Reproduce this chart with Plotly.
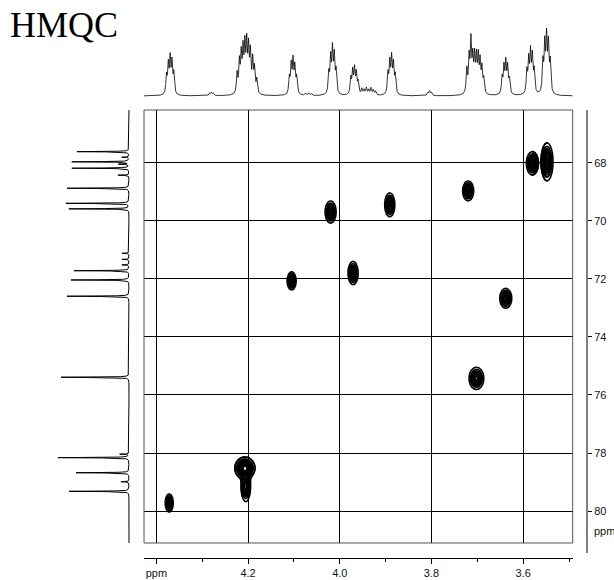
import numpy as np
import plotly.graph_objects as go

# ---------------- data ----------------
# 1H projection (top): line positions (ppm) and amplitudes (arb.)
h_pos = [4.378, 4.374, 4.370, 4.366, 4.362,
         4.284, 4.280, 4.276,
         4.224, 4.219, 4.215, 4.211, 4.207, 4.203, 4.199, 4.195, 4.190, 4.186, 4.181,
         4.110, 4.106, 4.102, 4.098, 4.094,
         4.075, 4.068, 4.062,
         4.024, 4.020, 4.016, 4.012, 4.008,
         3.976, 3.972, 3.968, 3.964, 3.960,
         3.952, 3.947, 3.942, 3.937, 3.932, 3.927, 3.922,
         3.895, 3.891, 3.887, 3.883, 3.879,
         3.808, 3.804, 3.800,
         3.723, 3.718, 3.714, 3.710, 3.706, 3.702, 3.698, 3.694, 3.690, 3.686,
         3.646, 3.642, 3.638, 3.634, 3.630,
         3.592, 3.588, 3.584, 3.580, 3.576,
         3.557, 3.553, 3.549, 3.545, 3.541]
h_amp = [18, 28, 34, 30, 20,
         2.5, 3, 2.5,
         20, 30, 36, 40, 44, 46, 42, 38, 32, 24, 14,
         16, 28, 32, 26, 16,
         2, 2.5, 2,
         20, 34, 42, 36, 22,
         16, 22, 24, 20, 12,
         6, 5, 7, 5, 7, 5, 4,
         20, 30, 34, 28, 18,
         3, 4.5, 3,
         24, 34, 50, 32, 34, 33, 34, 30, 24, 14,
         16, 26, 30, 26, 14,
         22, 32, 39, 35, 22,
         30, 46, 53, 46, 30]

# 13C projection (left): line positions (ppm) and intensities (arb.)
c_pos = [67.62, 67.81, 67.97, 68.05, 68.19, 68.43, 68.88, 69.40, 69.59,
         71.12, 71.33, 71.52, 71.72, 72.04, 72.60, 75.39,
         78.04, 78.16, 78.68, 78.99, 79.32]
c_amp = [52, 7, 57, 10, 57, 11, 62, 63, 60,
         7, 7, 7, 55, 58, 62, 68,
         9, 71, 53, 8, 60]

# HMQC cross peaks: 1H shift, 13C shift, half widths of outer contour (ppm)
xp_h = [4.372, 4.207, 4.205, 4.105, 4.020, 3.971, 3.891, 3.720, 3.638, 3.702, 3.580, 3.548]
xp_c = [79.72, 78.52, 79.15, 72.07, 69.70, 71.80, 69.45, 68.97, 72.67, 75.43, 68.02, 67.97]
xp_wh = [0.0087, 0.0218, 0.0105, 0.0098, 0.0120, 0.0110, 0.0110, 0.0120, 0.0130, 0.0160, 0.0130, 0.0130]
xp_wc = [0.31, 0.38, 0.55, 0.31, 0.38, 0.40, 0.41, 0.34, 0.34, 0.38, 0.40, 0.65]
xp_amp = [1.0, 1.0, 0.8, 1.0, 1.0, 1.0, 1.0, 1.0, 1.0, 1.0, 1.0, 1.0]

x_ticks = [4.4, 4.2, 4.0, 3.8, 3.6]
x_ticktext = ["ppm", "4.2", "4.0", "3.8", "3.6"]
x_minor = [4.3, 4.1, 3.9, 3.7, 3.5]
y_ticks = [68, 70, 72, 74, 76, 78, 80]

X_RANGE = [4.427, 3.492]
Y_RANGE = [81.10, 66.185]

# ---------------- helpers ----------------
def lorentz_sum(grid, pos, amp, gamma):
    g = np.asarray(grid)[:, None]
    p = np.asarray(pos)[None, :]
    a = np.asarray(amp)[None, :]
    return (a / (1.0 + ((g - p) / gamma) ** 2)).sum(axis=1)

FAC = np.sqrt(2 * np.log(10.0))  # outer contour at 10% level
sh = np.array(xp_wh) / FAC
sc = np.array(xp_wc) / FAC

def cross_z(xg, yg):
    X, Y = np.meshgrid(xg, yg)
    Z = np.zeros_like(X)
    for h, c, a, s1, s2 in zip(xp_h, xp_c, xp_amp, sh, sc):
        Z += a * np.exp(-0.5 * ((X - h) / s1) ** 2 - 0.5 * ((Y - c) / s2) ** 2)
    return Z

fig = go.Figure()

# cross peak contours (local windows around each peak)
for h, c, wh, wc in zip(xp_h, xp_c, xp_wh, xp_wc):
    xg = np.linspace(h - 2.6 * wh, h + 2.6 * wh, 53)
    yg = np.linspace(c - 2.6 * wc, c + 2.6 * wc, 81)
    Z = np.round(cross_z(xg, yg), 4)
    fig.add_trace(go.Contour(
        x=xg, y=yg, z=Z, xaxis="x", yaxis="y", showscale=False,
        contours=dict(coloring="lines", start=0.1, end=0.95, size=0.12),
        colorscale=[[0, "black"], [1, "black"]], line=dict(width=1.6),
        hoverinfo="skip"))

# top 1H projection
hx = np.linspace(X_RANGE[0], X_RANGE[1], 6000)
hx = np.sort(np.unique(np.concatenate([hx, h_pos])))[::-1]
hy = lorentz_sum(hx, h_pos, h_amp, 0.0016)
fig.add_trace(go.Scatter(x=hx, y=hy, mode="lines", xaxis="x2", yaxis="y2",
                         line=dict(color="black", width=0.8), hoverinfo="skip"))

# left 13C projection
cy = np.linspace(Y_RANGE[1], Y_RANGE[0], 5000)
cy = np.sort(np.unique(np.concatenate([cy, c_pos])))
cx = lorentz_sum(cy, c_pos, c_amp, 0.008)
fig.add_trace(go.Scatter(x=cx, y=cy, mode="lines", xaxis="x3", yaxis="y3",
                         line=dict(color="black", width=1.0), hoverinfo="skip"))

W, H = 614, 580
xd = [144 / W, 572.7 / W]
yd = [1 - 543 / H, 1 - 110 / H]
tickfont = dict(family="Liberation Sans", size=11, color="#111")

fig.update_layout(
    width=W, height=H, margin=dict(l=0, r=0, t=0, b=0),
    paper_bgcolor="white", plot_bgcolor="white", showlegend=False,
    xaxis=dict(domain=xd, range=X_RANGE, anchor="free", position=1 - 558 / H,
               showline=True, linecolor="black", linewidth=1,
               ticks="outside", ticklen=5, tickcolor="black",
               tickvals=x_ticks, ticktext=x_ticktext, tickfont=tickfont,
               showgrid=True, gridcolor="black", gridwidth=1, zeroline=False,
               minor=dict(tickvals=x_minor, ticks="outside", ticklen=3,
                          tickcolor="black", showgrid=False)),
    yaxis=dict(domain=yd, range=Y_RANGE, anchor="free", position=587 / W,
               side="right", showline=False, ticks="outside", ticklen=4,
               tickcolor="black", tickvals=y_ticks, tickfont=tickfont,
               showgrid=True, gridcolor="black", gridwidth=1, zeroline=False),
    xaxis2=dict(domain=xd, range=X_RANGE, anchor="y2", visible=False),
    yaxis2=dict(domain=[1 - 100 / H, 1 - 28 / H], range=[-4, 68], anchor="x2",
                visible=False),
    xaxis3=dict(domain=[53 / W, 135 / W], range=[76, -6], anchor="y3", visible=False),
    yaxis3=dict(domain=yd, range=Y_RANGE, anchor="x3", visible=False),
    shapes=[
        dict(type="rect", xref="x domain", yref="y domain", x0=0, x1=1, y0=0, y1=1,
             line=dict(color="#555", width=1), layer="above"),
        dict(type="line", xref="paper", yref="paper", x0=587 / W, x1=587 / W,
             y0=1 - 553 / H, y1=1 - 110 / H, line=dict(color="black", width=1)),
    ],
    annotations=[
        dict(text="HMQC", xref="paper", yref="paper", x=8 / W, y=1 - 25 / H,
             xanchor="left", yanchor="middle", showarrow=False,
             font=dict(family="Liberation Serif", size=36, color="black")),
        dict(text="ppm", xref="paper", yref="paper", x=592 / W, y=1 - 531 / H,
             xanchor="left", yanchor="middle", showarrow=False, font=tickfont),
    ],
)

fig.write_html("out.html")
